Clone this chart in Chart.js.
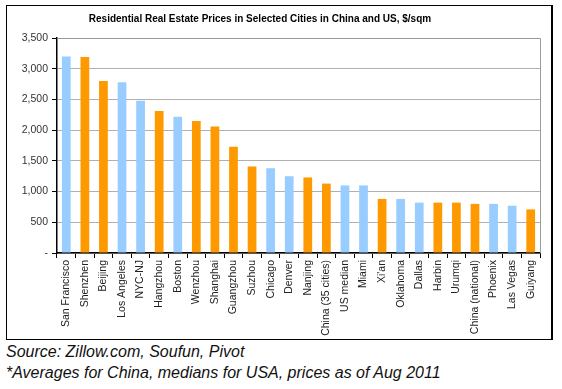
<!DOCTYPE html>
<html>
<head>
<meta charset="utf-8">
<script src="https://cdn.jsdelivr.net/npm/chart.js@4/dist/chart.umd.min.js"></script>
<style>
  html, body { margin: 0; padding: 0; background: #fff; }
  #wrap { position: relative; width: 562px; height: 389px; overflow: hidden; }
  #c { position: absolute; left: 0; top: 0; }
  .foot { position: absolute; left: 6px; font-family: "Liberation Sans", Arial, sans-serif; font-style: italic; font-size: 16px; color: #111; white-space: nowrap; line-height: 21px; }
</style>
</head>
<body>
<div id="wrap">
  <canvas id="c" width="562" height="340"></canvas>
  <div class="foot" style="top:341px;">Source: Zillow.com, Soufun, Pivot</div>
  <div class="foot" style="top:362px;">*Averages for China, medians for USA, prices as of Aug 2011</div>
</div>
<script>
const categories = ["San Francisco","Shenzhen","Beijing","Los Angeles","NYC-NJ","Hangzhou","Boston","Wenzhou","Shanghai","Guangzhou","Suzhou","Chicago","Denver","Nanjing","China (35 cities)","US median","Miami","Xi'an","Oklahoma","Dallas","Harbin","Urumqi","China (national)","Phoenix","Las Vegas","Guiyang"];
const prices = [3200,3190,2800,2780,2480,2310,2220,2150,2060,1730,1410,1380,1250,1230,1130,1100,1100,880,880,820,820,820,800,800,770,710];
const country = ["US","CN","CN","US","US","CN","US","CN","CN","CN","CN","US","US","CN","CN","US","US","CN","US","US","CN","CN","CN","US","US","CN"];
const yTicks = [0,500,1000,1500,2000,2500,3000,3500];
const titleText = "Residential Real Estate Prices in Selected Cities in China and US, $/sqm";

const colorFor = { US: "#99CCFF", CN: "#FF9900" };

const framePlugin = {
  id: "frame",
  beforeDraw(chart) {
    const ctx = chart.ctx;
    ctx.save();
    ctx.fillStyle = "#fff";
    ctx.fillRect(0, 0, chart.width, chart.height);
    ctx.strokeStyle = "#000";
    ctx.lineWidth = 1;
    ctx.strokeRect(6.5, 5.5, 545, 334);
    ctx.lineWidth = 2;
    ctx.beginPath();
    ctx.moveTo(552, 5); ctx.lineTo(552, 340);
    ctx.stroke();
    ctx.fillStyle = "#000";
    ctx.font = "bold 10px 'Liberation Sans', Arial, sans-serif";
    ctx.textAlign = "center";
    ctx.textBaseline = "middle";
    ctx.fillText(titleText, 260, 19.5);
    ctx.restore();
  },
  afterDatasetsDraw(chart) {
    const a = chart.chartArea;
    const ctx = chart.ctx;
    ctx.save();
    ctx.strokeStyle = "#9a9a9a";
    ctx.lineWidth = 1;
    ctx.beginPath();
    ctx.moveTo(a.left, Math.round(a.top) + 0.5);
    ctx.lineTo(Math.round(a.right) + 0.5, Math.round(a.top) + 0.5);
    ctx.lineTo(Math.round(a.right) + 0.5, a.bottom);
    ctx.stroke();
    ctx.restore();
  }
};

new Chart(document.getElementById("c"), {
  type: "bar",
  data: {
    labels: categories,
    datasets: [{
      label: "Price, $/sqm",
      data: prices,
      backgroundColor: country.map(c => colorFor[c]),
      borderWidth: 0,
      barPercentage: 0.47,
      categoryPercentage: 1.0
    }]
  },
  options: {
    responsive: false,
    animation: false,
    devicePixelRatio: 1,
    layout: { padding: { left: 0, right: 22, top: 38, bottom: 0 } },
    plugins: {
      legend: { display: false },
      title: { display: false },
      tooltip: { enabled: false }
    },
    scales: {
      x: {
        offset: true,
        grid: { display: true, drawOnChartArea: false, drawTicks: true, tickLength: 5, color: "#000", tickColor: "#000", offset: true },
        border: { display: true, color: "#000", width: 1.5 },
        ticks: {
          minRotation: 90, maxRotation: 90, autoSkip: false, padding: 2,
          color: "#222",
          font: { family: "'Liberation Sans', Arial, sans-serif", size: 10.5 }
        },
        afterFit(scale) { scale.height = 87; }
      },
      y: {
        min: 0, max: 3500,
        afterBuildTicks(scale) { scale.ticks = yTicks.map(v => ({ value: v })); },
        grid: { color: "#b0b0b0", lineWidth: 1, drawTicks: true, tickLength: 5, tickColor: "#000" },
        border: { display: true, color: "#000", width: 1.5 },
        ticks: {
          padding: 4,
          color: "#333",
          font: { family: "'Liberation Sans', Arial, sans-serif", size: 10.5 },
          callback(v) { return v === 0 ? "-" : v.toLocaleString("en-US"); }
        },
        afterFit(scale) { scale.width = 57; }
      }
    }
  },
  plugins: [framePlugin]
});
</script>
</body>
</html>
